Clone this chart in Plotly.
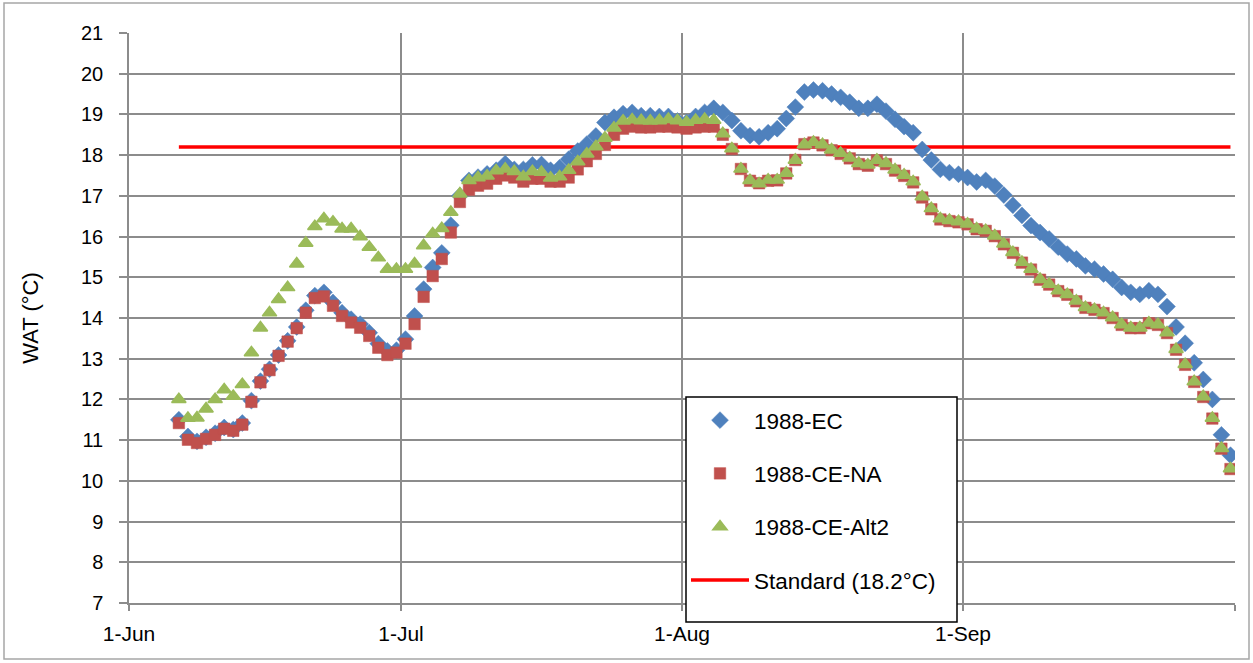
import pandas as pd
import plotly.graph_objects as go

# Daily dates (Excel date axis places each point mid-day)
dates = pd.date_range("1988-06-06 12:00", "1988-09-30 12:00", freq="D")

ec = [
    # Jun 6-30
    11.50, 11.09, 10.97, 11.07, 11.17, 11.31, 11.26, 11.42, 11.97, 12.45, 12.74, 13.09, 13.44,
    13.78, 14.19, 14.55, 14.63, 14.38, 14.13, 13.97, 13.85, 13.64, 13.37, 13.19, 13.21,
    # Jul
    13.48, 14.05, 14.71, 15.24, 15.60, 16.28, 17.00, 17.38, 17.46, 17.54, 17.63, 17.79, 17.65,
    17.65, 17.76, 17.77, 17.63, 17.69, 17.90, 18.10, 18.27, 18.47, 18.80, 18.93, 19.02, 19.05,
    18.97, 18.97, 18.95, 18.95, 18.84,
    # Aug
    18.80, 18.95, 19.05, 19.15, 19.05, 18.85, 18.60, 18.48, 18.45, 18.55, 18.65, 18.90, 19.18,
    19.55, 19.60, 19.58, 19.50, 19.42, 19.30, 19.15, 19.15, 19.25, 19.08, 18.88, 18.70, 18.55,
    18.14, 17.88, 17.65, 17.57, 17.53,
    # Sep
    17.45, 17.34, 17.38, 17.24, 17.02, 16.77, 16.52, 16.27, 16.10, 15.94, 15.74, 15.57, 15.45,
    15.28, 15.20, 15.08, 14.95, 14.75, 14.63, 14.58, 14.67, 14.58, 14.28, 13.78, 13.38, 12.90,
    12.49, 12.00, 11.13, 10.63,
]

ce_na = [
    # Jun 6-30
    11.42, 11.01, 10.93, 11.03, 11.13, 11.28, 11.23, 11.38, 11.94, 12.42, 12.72, 13.07, 13.42,
    13.75, 14.13, 14.49, 14.53, 14.30, 14.05, 13.89, 13.76, 13.56, 13.27, 13.09, 13.15,
    # Jul
    13.37, 13.85, 14.52, 15.03, 15.45, 16.10, 16.85, 17.15, 17.25, 17.30, 17.42, 17.50, 17.45,
    17.35, 17.42, 17.42, 17.35, 17.35, 17.45, 17.65, 17.85, 18.03, 18.25, 18.50, 18.65, 18.70,
    18.68, 18.68, 18.70, 18.70, 18.68,
    # Aug
    18.65, 18.68, 18.70, 18.70, 18.50, 18.15, 17.66, 17.37, 17.31, 17.37, 17.38, 17.55, 17.88,
    18.27, 18.31, 18.24, 18.12, 18.03, 17.92, 17.78, 17.74, 17.87, 17.78, 17.62, 17.49, 17.33,
    16.96, 16.67, 16.42, 16.38, 16.35,
    # Sep
    16.30, 16.18, 16.14, 16.01, 15.81, 15.60, 15.36, 15.19, 14.94, 14.82, 14.66, 14.57, 14.41,
    14.25, 14.20, 14.12, 14.00, 13.83, 13.75, 13.75, 13.87, 13.83, 13.63, 13.22, 12.85, 12.43,
    12.06, 11.53, 10.79, 10.29,
]

ce_alt2 = [
    # Jun 6-30
    12.00, 11.54, 11.55, 11.77, 12.00, 12.24, 12.08, 12.37, 13.15, 13.76, 14.13, 14.46, 14.75,
    15.33, 15.84, 16.25, 16.44, 16.36, 16.19, 16.19, 16.00, 15.74, 15.48, 15.20, 15.20,
    # Jul
    15.20, 15.33, 15.78, 16.07, 16.20, 16.60, 17.05, 17.38, 17.45, 17.49, 17.62, 17.66, 17.60,
    17.47, 17.60, 17.58, 17.44, 17.47, 17.63, 17.84, 18.03, 18.21, 18.42, 18.67, 18.84, 18.87,
    18.85, 18.84, 18.85, 18.88, 18.85,
    # Aug
    18.81, 18.86, 18.88, 18.86, 18.53, 18.16, 17.66, 17.38, 17.30, 17.39, 17.39, 17.56, 17.88,
    18.26, 18.32, 18.26, 18.13, 18.05, 17.93, 17.80, 17.76, 17.88, 17.80, 17.64, 17.51, 17.35,
    16.98, 16.69, 16.44, 16.40, 16.37,
    # Sep
    16.31, 16.19, 16.15, 16.02, 15.82, 15.61, 15.37, 15.20, 14.95, 14.83, 14.67, 14.58, 14.42,
    14.26, 14.21, 14.13, 14.01, 13.84, 13.76, 13.76, 13.88, 13.84, 13.64, 13.23, 12.86, 12.44,
    12.07, 11.54, 10.80, 10.30,
]

standard_value = 18.2
standard = [standard_value] * len(dates)

tick_dates = ["1988-06-01", "1988-07-01", "1988-08-01", "1988-09-01", "1988-10-01"]
tick_labels = ["1-Jun", "1-Jul", "1-Aug", "1-Sep", ""]

FONT = "Liberation Sans, Arial, sans-serif"
GRID = "#8c8c8c"

fig = go.Figure()
fig.add_trace(go.Scatter(
    x=dates, y=standard, mode="lines", name="Standard (18.2°C)",
    line=dict(color="#FF0000", width=3.5), legendrank=4, legendgroup="d"))
fig.add_trace(go.Scatter(
    x=dates, y=ec, mode="markers", name="1988-EC",
    marker=dict(symbol="diamond", size=13, color="#4F81BD",
                line=dict(color="#4F81BD", width=0.5)),
    legendrank=1, legendgroup="a"))
fig.add_trace(go.Scatter(
    x=dates, y=ce_na, mode="markers", name="1988-CE-NA",
    marker=dict(symbol="square", size=11.5, color="#C0504D",
                line=dict(color="#C0504D", width=0.5)),
    legendrank=2, legendgroup="b"))
fig.add_trace(go.Scatter(
    x=dates, y=ce_alt2, mode="markers", name="1988-CE-Alt2",
    marker=dict(symbol="triangle-up", size=12.5, color="#9BBB59",
                line=dict(color="#9BBB59", width=1.5)),
    legendrank=3, legendgroup="c"))

L, R, T, B = 129, 18, 33, 60
W, H = 1253, 663
pw, ph = W - L - R, H - T - B

def px(xp):
    return (xp - L) / pw

def py(yp):
    return (H - B - yp) / ph

fig.update_layout(
    width=W, height=H,
    margin=dict(l=L, r=R, t=T, b=B, autoexpand=False),
    paper_bgcolor="white", plot_bgcolor="white",
    font=dict(family=FONT, size=20, color="#000000"),
    showlegend=True,
    legend=dict(
        x=px(686), y=py(399), xanchor="left", yanchor="top",
        bgcolor="rgba(0,0,0,0)", borderwidth=0,
        font=dict(family=FONT, size=22.5, color="#000000"),
        traceorder="grouped", tracegroupgap=21, itemwidth=58,
    ),
    shapes=[
        dict(type="rect", xref="paper", yref="paper",
             x0=px(4), x1=px(1249), y0=py(659), y1=py(3),
             line=dict(color="#a6a6a6", width=1.5), fillcolor="rgba(0,0,0,0)",
             layer="below"),
        dict(type="rect", xref="paper", yref="paper",
             x0=px(686), x1=px(957), y0=py(622), y1=py(397),
             line=dict(color="#000000", width=1.5), fillcolor="white",
             layer="above"),
    ],
)

fig.update_xaxes(
    type="date", range=["1988-06-01", "1988-10-01"],
    tickvals=tick_dates, ticktext=tick_labels,
    showgrid=True, gridcolor=GRID, gridwidth=1.5,
    showline=True, linecolor=GRID, linewidth=1.5,
    ticks="outside", ticklen=6, tickcolor=GRID, tickwidth=1.5,
    ticklabelstandoff=5, zeroline=False,
    tickfont=dict(family=FONT, size=21),
)
fig.update_yaxes(
    range=[7, 21], dtick=1, tick0=7,
    showgrid=True, gridcolor=GRID, gridwidth=1.5,
    showline=True, linecolor=GRID, linewidth=1.5,
    ticks="outside", ticklen=8, tickcolor=GRID, tickwidth=1.5,
    ticklabelstandoff=12, zeroline=False,
    tickfont=dict(family=FONT, size=20),
    title=dict(text="WAT (°C)", font=dict(family=FONT, size=22), standoff=36),
)

fig.write_html(
    "out.html",
    config={"displayModeBar": False},
    post_script="document.body.style.margin='0';document.body.style.padding='0';",
)
